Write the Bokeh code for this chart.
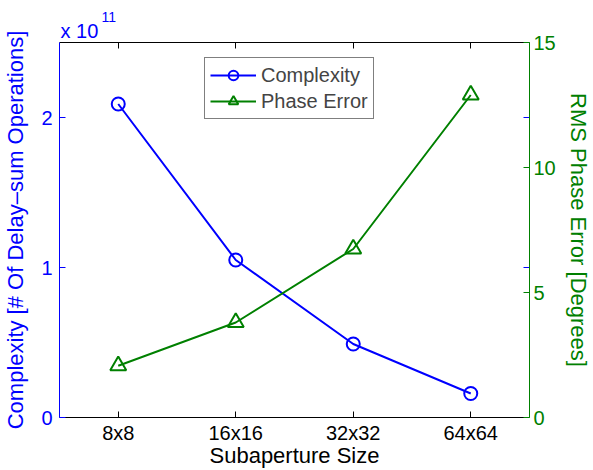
from bokeh.plotting import figure
from bokeh.models import (Range1d, LinearAxis, FixedTicker, Legend, LegendItem, Title)
from bokeh.embed import file_html
from bokeh.resources import INLINE

# Data
sizes = ["8x8", "16x16", "32x32", "64x64"]
positions = [1, 2, 3, 4]
complexity = [2.09e11, 1.05e11, 0.49e11, 0.16e11]   # delay-sum operations
phase_error = [2.07, 3.8, 6.74, 12.9]               # RMS phase error, degrees
left_ticks = [0, 1e11, 2e11]
left_tick_labels = ["0", "1", "2"]
right_ticks = [0, 5, 10, 15]

FONT = "Liberation Sans"
TICK_FS = "20px"
LABEL_FS = "22px"
BLUE = "#0000ff"
GREEN = "#008000"

p = figure(width=593, height=470, output_backend="svg", toolbar_location=None,
           x_range=Range1d(0.5, 4.5), y_range=Range1d(0, 2.5e11),
           x_axis_location=None, y_axis_location=None,
           min_border_left=59, min_border_right=60,
           min_border_top=42, min_border_bottom=52)
p.extra_y_ranges = {"phase": Range1d(0, 15)}
p.grid.visible = False
p.outline_line_color = None
p.background_fill_color = "white"
p.border_fill_color = "white"


def style_axis(ax, color):
    ax.axis_line_color = color
    ax.axis_line_width = 1
    ax.major_tick_line_color = color
    ax.major_tick_in = 6
    ax.major_tick_out = 0
    ax.minor_tick_line_color = None
    ax.major_label_text_font = FONT
    ax.major_label_text_font_size = TICK_FS
    ax.major_label_text_color = color
    ax.axis_label_text_font = FONT
    ax.axis_label_text_font_size = LABEL_FS
    ax.axis_label_text_font_style = "normal"
    ax.axis_label_text_color = color


# bottom category axis
xb = LinearAxis(ticker=FixedTicker(ticks=positions),
                major_label_overrides={pos: s for pos, s in zip(positions, sizes)},
                axis_label="Subaperture Size")
style_axis(xb, "black")
xb.major_label_standoff = 4
xb.axis_label_standoff = -4
p.add_layout(xb, "below")

# top edge with tick marks only
xt = LinearAxis(ticker=FixedTicker(ticks=positions),
                major_label_overrides={pos: "" for pos in positions})
style_axis(xt, "black")
xt.major_label_text_font_size = "0px"
xt.major_label_standoff = 0
p.add_layout(xt, "above")

# left complexity axis
yl = LinearAxis(ticker=FixedTicker(ticks=left_ticks),
                major_label_overrides={t: s for t, s in zip(left_ticks, left_tick_labels)},
                axis_label="Complexity [# Of Delay\u2013sum Operations]")
style_axis(yl, BLUE)
yl.major_label_standoff = 7
yl.axis_label_standoff = 10
p.add_layout(yl, "left")

# right edge: complexity tick marks (no labels), then phase axis
yr_ticks = LinearAxis(ticker=FixedTicker(ticks=left_ticks[1:]),
                      major_label_overrides={t: "" for t in left_ticks[1:]})
style_axis(yr_ticks, BLUE)
yr_ticks.axis_line_color = None
yr_ticks.major_label_text_font_size = "0px"
yr_ticks.major_label_standoff = 0
p.add_layout(yr_ticks, "right")

yr = LinearAxis(y_range_name="phase", ticker=FixedTicker(ticks=right_ticks),
                axis_label="RMS Phase Error [Degrees]")
style_axis(yr, GREEN)
yr.major_label_standoff = 4
yr.axis_label_standoff = 7
p.add_layout(yr, "right")

# series
c_line = p.line(positions, complexity, line_color=BLUE, line_width=2)
c_mark = p.scatter(positions, complexity, marker="circle", size=13,
                   fill_color=None, line_color=BLUE, line_width=2)
e_line = p.line(positions, phase_error, line_color=GREEN, line_width=2,
                y_range_name="phase")
e_mark = p.scatter(positions, phase_error, marker="triangle", size=16,
                   fill_color=None, line_color=GREEN, line_width=2,
                   y_range_name="phase")

legend = Legend(items=[LegendItem(label="Complexity", renderers=[c_line, c_mark]),
                       LegendItem(label="Phase Error", renderers=[e_line, e_mark])],
                location=(145, 298), orientation="vertical",
                label_text_font=FONT, label_text_font_size=TICK_FS,
                glyph_width=46, glyph_height=24, label_standoff=5,
                padding=5, spacing=2, margin=0,
                border_line_color="black", border_line_width=1,
                background_fill_color="white", background_fill_alpha=1)
p.add_layout(legend, "center")

# exponent multiplier for the left axis, drawn above the frame
p.add_layout(Title(text="x 10", align="left", offset=1, standoff=2,
                   text_font=FONT, text_font_size=TICK_FS, text_color=BLUE,
                   text_font_style="normal"), "above")
p.add_layout(Title(text="11", align="left", offset=42, standoff=-11,
                   text_font=FONT, text_font_size="14px", text_color=BLUE,
                   text_font_style="normal"), "above")

open("out.html", "w").write(file_html(p, INLINE))
